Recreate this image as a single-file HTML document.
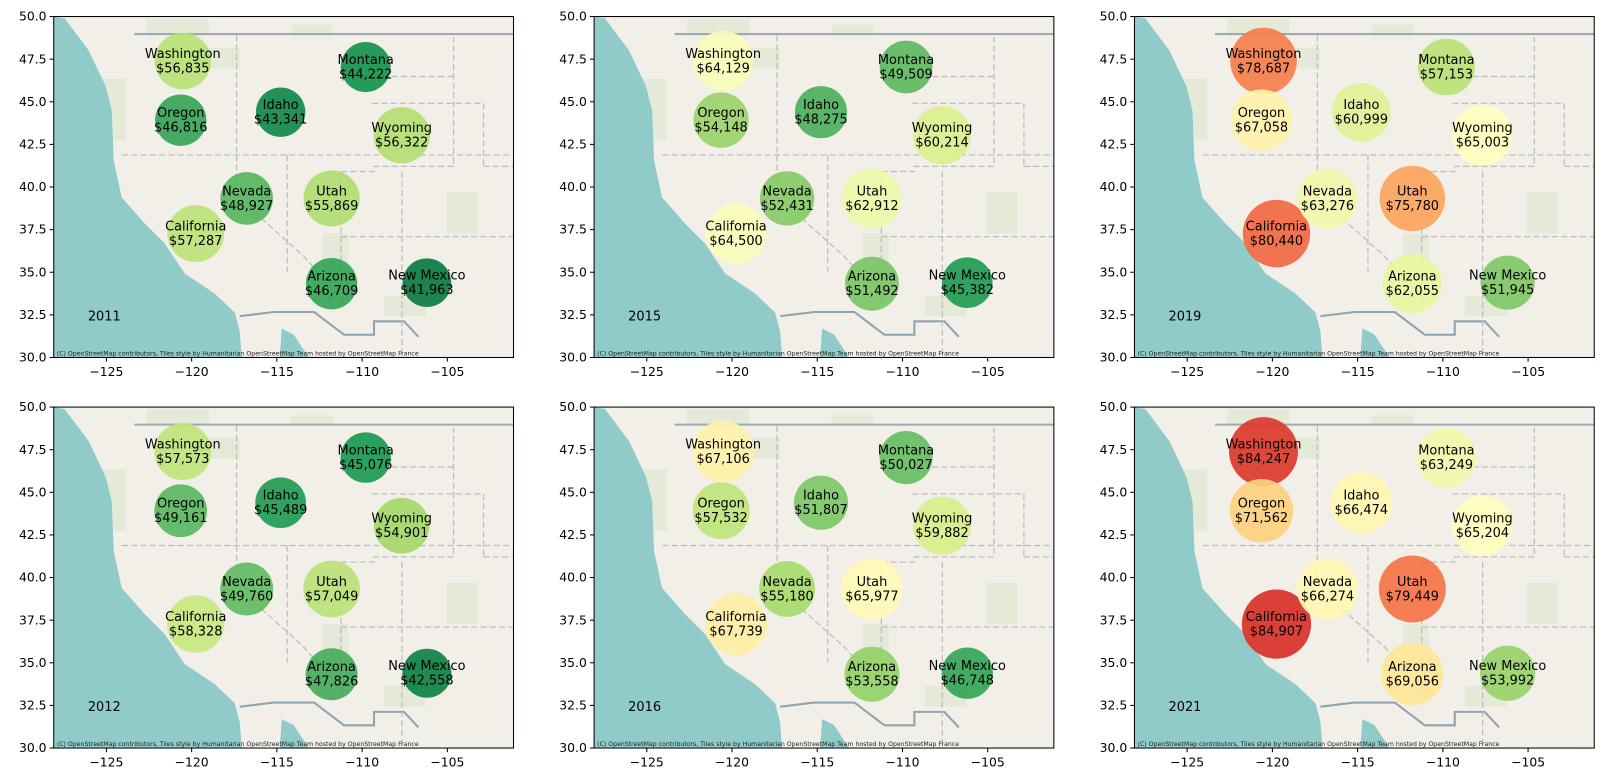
<!DOCTYPE html>
<html><head><meta charset="utf-8">
<style>
body{margin:0;background:#fff;font-family:"Liberation Sans",sans-serif;}
svg text{font-family:"DejaVu Sans","Liberation Sans",sans-serif;}
</style></head>
<body>
<svg id="chart" width="1620" height="773" xmlns="http://www.w3.org/2000/svg"><g id="root" transform="scale(1.0332)"></g></svg>
<script>
const states = ["Washington","Oregon","California","Nevada","Idaho","Montana","Wyoming","Utah","Arizona","New Mexico"];
const lons = [-120.52,-120.64,-119.76,-116.77,-114.78,-109.79,-107.68,-111.79,-111.79,-106.2];
const lats = [47.39,43.92,37.27,39.33,44.39,47.04,43.04,39.33,34.33,34.39];
const years = ["2011","2015","2019","2012","2016","2021"];
const v2011 = [56835,46816,57287,48927,43341,44222,56322,55869,46709,41963];
const v2015 = [64129,54148,64500,52431,48275,49509,60214,62912,51492,45382];
const v2019 = [78687,67058,80440,63276,60999,57153,65003,75780,62055,51945];
const v2012 = [57573,49161,58328,49760,45489,45076,54901,57049,47826,42558];
const v2016 = [67106,57532,67739,55180,51807,50027,59882,65977,53558,46748];
const v2021 = [84247,71562,84907,66274,66474,63249,65204,79449,69056,53992];
const seriesByPanel = [v2011,v2015,v2019,v2012,v2016,v2021];
const xTicks = [-125,-120,-115,-110,-105];
const yTicks = [30.0,32.5,35.0,37.5,40.0,42.5,45.0,47.5,50.0];

const NS="http://www.w3.org/2000/svg";
const svg=document.getElementById('root');
function mk(t,a,p){const e=document.createElementNS(NS,t);for(const k in a)e.setAttribute(k,a[k]);(p||svg).appendChild(e);return e;}
const W=445,H=330, lonMin=-128.09, lonMax=-101.12, latMin=30, latMax=50;
const colL=[52,575,1098], rowT=[16,394];
const stops=["#a50026","#d73027","#f46d43","#fdae61","#fee08b","#ffffbf","#d9ef8b","#a6d96a","#66bd63","#1a9850","#006837"].reverse();
function hex(h){return [1,3,5].map(i=>parseInt(h.substr(i,2),16));}
function cmap(v){let t=(v-40000)/(90000-40000);t=Math.max(0,Math.min(1,t));const f=t*10,i=Math.min(9,Math.floor(f)),r=f-i;const a=hex(stops[i]),b=hex(stops[i+1]);return `rgb(${a.map((c,k)=>Math.round(c+(b[k]-c)*r)).join(',')})`;}
const S=1/1.0332;
const ocean=[[0,0],[11,2],[35,34],[52,70],[58,94],[60,144],[68,181],[91,207],[111,227],[131,257],[161,277],[181,296],[186,315],[188,341],[0,341]].map(q=>[q[0]*S,Math.min(330,q[1]*S)]);
const gulf=[[226,341],[228,312],[240,318],[255,341]].map(q=>[q[0]*S,Math.min(330,q[1]*S)]);
for(let p=0;p<6;p++){
  const L=colL[p%3],T=rowT[Math.floor(p/3)];
  const g=mk('g',{transform:`translate(${L},${T})`});
  
  
  const sx=lon=>(lon-lonMin)/(lonMax-lonMin)*W;
  const sy=lat=>H-(lat-latMin)/(latMax-latMin)*H;
  mk('rect',{x:0,y:0,width:W,height:H,fill:'#f2efe9'},g);
  [[90,2,60,14],[150,30,30,20],[230,8,40,10],[40,60,30,60],[320,270,40,20],[380,170,30,40],[260,210,25,40]].forEach(r=>mk('rect',{x:r[0],y:r[1],width:r[2],height:r[3],fill:'#d8e4c8',opacity:0.5},g));
  mk('polygon',{points:ocean.map(q=>q.join(',')).join(' '),fill:'#90cbca'},g);
  mk('polygon',{points:gulf.map(q=>q.join(',')).join(' '),fill:'#90cbca'},g);
  mk('path',{d:'M78,17 L445,17',stroke:'#9aabb5','stroke-width':2,fill:'none'},g);
  mk('path',{d:'M180,290 L213,286 L252,286 L281,308 L310,308 L310,295 L339,295 L353,310',stroke:'#8ea4b0','stroke-width':2,fill:'none'},g);
  const borders=['M66,134 L445,134','M177,18 L177,134','M177,134 L177,174 L242,232 L281,277','M226,134 L226,247','M278,150 L278,277','M278,150 L310,150 L310,145 L387,145 L387,20','M308,84 L416,84 L416,145','M278,213 L445,213','M337,150 L337,330','M300,58 L387,58','M416,145 L445,145'];
  borders.forEach(d=>mk('path',{d:d,stroke:'#bdbdbd','stroke-width':1.2,'stroke-dasharray':'6,3',fill:'none'},g));
  const vals=seriesByPanel[p];
  for(let i=0;i<states.length;i++){
    const cx=sx(lons[i]),cy=sy(lats[i]),r=33.5*Math.sqrt(vals[i]/84907);
    const c=mk('circle',{cx:cx,cy:cy,r:r,fill:cmap(vals[i]),'fill-opacity':0.92},g);
    
    
    const t=mk('text',{x:cx,y:cy-3,'text-anchor':'middle','font-size':12.5,fill:'#000'},g);
    
    
    t.textContent=states[i];
    const t2=mk('text',{x:cx,y:cy+11,'text-anchor':'middle','font-size':12.5,fill:'#000'},g);
    
    
    t2.textContent='$'+vals[i].toLocaleString('en-US');
  }
  const yr=mk('text',{x:33,y:294,'font-size':12.5,fill:'#000'},g);
  
  
  yr.textContent=years[p];
  const at=mk('text',{x:3,y:328,'font-size':6,fill:'#222'},g);
  
  
  at.textContent='(C) OpenStreetMap contributors, Tiles style by Humanitarian OpenStreetMap Team hosted by OpenStreetMap France';
  mk('rect',{x:0,y:0,width:W,height:H,fill:'none',stroke:'#000','stroke-width':1},g);
  xTicks.forEach(v=>{const x=sx(v);mk('line',{x1:x,x2:x,y1:H,y2:H+4,stroke:'#000'},g);
    const t=mk('text',{x:x,y:H+18,'text-anchor':'middle','font-size':12,fill:'#000'},g);
    
    
    t.textContent='\u2212'+Math.abs(v);});
  yTicks.forEach(v=>{const y=sy(v);mk('line',{x1:-4,x2:0,y1:y,y2:y,stroke:'#000'},g);
    const t=mk('text',{x:-7,y:y+4,'text-anchor':'end','font-size':12,fill:'#000'},g);
    
    
    t.textContent=v.toFixed(1);});
}
</script>
</body></html>
